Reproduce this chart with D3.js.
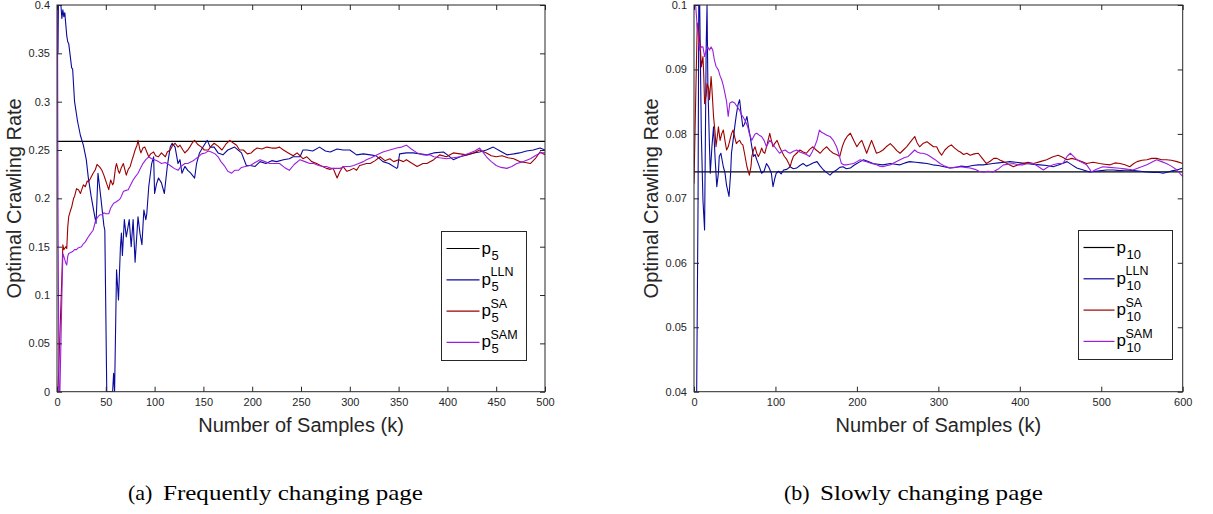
<!DOCTYPE html>
<html>
<head>
<meta charset="utf-8">
<script src="https://cdn.jsdelivr.net/npm/d3@7"></script>
<style>
  body { margin: 0; background: #fff; }
  svg { display: block; }
  .sans { font-family: "Liberation Sans", Arial, Helvetica, sans-serif; }
  .serif { font-family: "Liberation Serif", "Times New Roman", Times, serif; }
</style>
</head>
<body>
<script>
// ---- data ----
var leftXTicks = [0, 50, 100, 150, 200, 250, 300, 350, 400, 450, 500];
var leftYTicks = [0, 0.05, 0.1, 0.15, 0.2, 0.25, 0.3, 0.35, 0.4];
var rightXTicks = [0, 100, 200, 300, 400, 500, 600];
var rightYTicks = [0.04, 0.05, 0.06, 0.07, 0.08, 0.09, 0.1];

var leftTarget = 0.259;
var rightTarget = 0.0741;

var leftLln = [[1,0.35],[2,0.46],[4,0.40],[5,0.386],[6,0.395],[7,0.388],[8,0.392],[9,0.38],[10,0.368],[11,0.362],[12,0.36],[13,0.352],[15,0.335],[16,0.334],[18,0.30],[21,0.28],[24,0.265],[27,0.255],[30,0.24],[32,0.222],[35,0.202],[38,0.185],[40,0.174],[42,0.226],[45,0.2],[48,0.172],[49,0.167],[51,0],[55,0],[57,0],[58,0.019],[59,0],[61,0.126],[63,0.095],[65,0.15],[66,0.164],[67,0.141],[69,0.178],[71,0.16],[74,0.178],[76,0.15],[78,0.178],[80,0.134],[83,0.181],[85,0.164],[87,0.152],[89,0.188],[91,0.178],[92,0.184],[94,0.212],[97,0.236],[99,0.243],[100,0.205],[102,0.215],[104,0.221],[107,0.216],[110,0.205],[113,0.233],[116,0.253],[118,0.257],[121,0.253],[124,0.236],[126,0.24],[128,0.226],[131,0.233],[134,0.229],[137,0.226],[141,0.221],[143,0.236],[146,0.247],[149,0.252],[152,0.257],[154,0.26],[157,0.253],[161,0.253],[165,0.247],[170,0.245],[175,0.25],[182,0.253],[189,0.247],[194,0.234],[198,0.234],[203,0.233],[208,0.238],[214,0.236],[220,0.239],[225,0.238],[232,0.24],[238,0.241],[242,0.243],[249,0.243],[252,0.25],[256,0.25],[262,0.249],[269,0.253],[275,0.249],[280,0.248],[287,0.251],[293,0.25],[300,0.25],[307,0.245],[314,0.246],[321,0.245],[327,0.244],[334,0.238],[340,0.236],[348,0.231],[349,0.232],[351,0.246],[358,0.247],[365,0.247],[372,0.246],[379,0.245],[386,0.247],[396,0.248],[400,0.245],[406,0.24],[413,0.243],[420,0.245],[427,0.247],[433,0.248],[440,0.25],[447,0.253],[454,0.249],[461,0.245],[468,0.246],[474,0.247],[481,0.249],[488,0.25],[495,0.252],[500,0.25]];

var leftSa = [[0,0],[1,0],[3,0.06],[5,0.12],[6,0.152],[7,0.147],[9,0.15],[10,0.148],[11,0.17],[12,0.181],[14,0.188],[15,0.191],[17,0.2],[18,0.202],[20,0.21],[22,0.209],[24,0.205],[25,0.208],[27,0.214],[29,0.212],[31,0.218],[32,0.217],[34,0.22],[35,0.222],[37,0.226],[39,0.229],[41,0.235],[42,0.234],[44,0.232],[46,0.229],[48,0.224],[49,0.221],[51,0.215],[53,0.209],[55,0.219],[57,0.214],[58,0.216],[60,0.232],[61,0.236],[63,0.228],[64,0.226],[66,0.232],[68,0.236],[70,0.228],[71,0.224],[73,0.23],[75,0.233],[77,0.24],[78,0.243],[80,0.25],[82,0.255],[83,0.26],[85,0.25],[86,0.247],[88,0.252],[90,0.253],[92,0.248],[94,0.243],[96,0.246],[99,0.248],[101,0.244],[104,0.243],[107,0.247],[111,0.243],[113,0.248],[116,0.25],[118,0.254],[121,0.257],[124,0.253],[126,0.255],[129,0.25],[131,0.247],[134,0.25],[136,0.253],[139,0.258],[141,0.26],[144,0.256],[148,0.253],[151,0.25],[155,0.25],[158,0.254],[161,0.257],[165,0.254],[169,0.25],[173,0.256],[177,0.26],[181,0.257],[184,0.255],[187,0.25],[191,0.25],[195,0.246],[199,0.247],[202,0.25],[205,0.252],[210,0.251],[215,0.253],[220,0.252],[225,0.252],[228,0.253],[232,0.25],[237,0.247],[242,0.244],[246,0.247],[252,0.241],[256,0.243],[261,0.238],[266,0.236],[270,0.234],[276,0.231],[280,0.23],[283,0.231],[285,0.226],[287,0.221],[290,0.228],[293,0.233],[297,0.228],[300,0.229],[304,0.231],[307,0.229],[310,0.234],[314,0.235],[317,0.236],[321,0.236],[326,0.239],[331,0.243],[336,0.239],[341,0.241],[345,0.238],[350,0.24],[355,0.238],[358,0.24],[364,0.236],[369,0.233],[375,0.236],[379,0.236],[386,0.24],[392,0.245],[399,0.243],[406,0.247],[413,0.246],[420,0.245],[427,0.247],[433,0.25],[440,0.247],[445,0.244],[450,0.243],[456,0.244],[462,0.242],[468,0.241],[474,0.238],[480,0.237],[485,0.236],[490,0.241],[495,0.248],[500,0.245]];

var leftSam = [[0,0.6],[1,0.2],[2,0],[3,0],[5,0.1],[6,0.143],[7,0.14],[9,0.133],[10,0.131],[11,0.14],[12,0.143],[14,0.144],[16,0.145],[18,0.147],[20,0.147],[22,0.149],[25,0.15],[27,0.153],[29,0.155],[32,0.16],[34,0.163],[37,0.167],[39,0.175],[40,0.178],[42,0.181],[44,0.183],[46,0.183],[48,0.185],[50,0.184],[53,0.184],[55,0.19],[58,0.195],[60,0.196],[63,0.198],[65,0.2],[68,0.207],[70,0.208],[73,0.209],[75,0.213],[78,0.219],[80,0.222],[83,0.226],[85,0.23],[88,0.236],[91,0.24],[94,0.243],[97,0.241],[100,0.24],[104,0.238],[107,0.236],[111,0.237],[116,0.234],[120,0.231],[124,0.229],[127,0.233],[131,0.236],[134,0.236],[138,0.238],[141,0.24],[145,0.243],[148,0.246],[152,0.247],[155,0.249],[158,0.248],[162,0.246],[165,0.243],[168,0.238],[172,0.233],[175,0.228],[179,0.226],[182,0.229],[186,0.229],[189,0.232],[193,0.233],[198,0.234],[203,0.237],[208,0.24],[213,0.238],[218,0.236],[222,0.236],[228,0.236],[233,0.232],[238,0.229],[243,0.235],[249,0.24],[254,0.238],[259,0.236],[263,0.236],[268,0.234],[273,0.233],[276,0.233],[281,0.231],[287,0.231],[290,0.231],[295,0.233],[300,0.233],[304,0.234],[309,0.236],[314,0.238],[317,0.24],[322,0.242],[328,0.245],[334,0.248],[341,0.25],[348,0.252],[353,0.253],[358,0.255],[363,0.251],[369,0.247],[375,0.245],[382,0.245],[386,0.243],[392,0.242],[399,0.241],[406,0.242],[413,0.243],[418,0.245],[423,0.247],[428,0.249],[433,0.252],[437,0.247],[440,0.243],[445,0.238],[450,0.234],[455,0.232],[461,0.231],[466,0.233],[471,0.236],[478,0.238],[485,0.241],[490,0.244],[495,0.247],[500,0.247]];

var rightLln = [[0,0.03],[3,0.035],[5,0.07],[6,0.105],[7,0.1],[9,0.08],[11,0.0697],[13,0.0651],[15,0.094],[16,0.1],[17,0.0878],[19,0.078],[20,0.0739],[22,0.078],[24,0.0811],[26,0.076],[28,0.0718],[30,0.074],[31,0.0765],[33,0.077],[36,0.0749],[38,0.074],[40,0.072],[43,0.0703],[45,0.074],[46,0.077],[48,0.079],[50,0.0811],[52,0.083],[54,0.0845],[56,0.0853],[58,0.083],[60,0.0811],[62,0.0815],[65,0.0827],[67,0.081],[69,0.0796],[71,0.078],[73,0.0765],[75,0.0768],[77,0.076],[80,0.075],[83,0.0739],[86,0.0742],[89,0.0754],[92,0.0748],[95,0.0739],[97,0.0718],[99,0.073],[101,0.0739],[104,0.0742],[107,0.0738],[110,0.0744],[114,0.0745],[118,0.0749],[122,0.0746],[126,0.0747],[130,0.0751],[134,0.0754],[138,0.075],[142,0.0752],[146,0.0755],[151,0.0757],[155,0.075],[159,0.0744],[163,0.074],[167,0.0736],[171,0.0741],[175,0.0744],[179,0.0748],[183,0.0749],[187,0.0746],[192,0.0747],[196,0.0751],[200,0.0754],[204,0.0757],[208,0.076],[214,0.0757],[220,0.0754],[226,0.0753],[232,0.0752],[241,0.0754],[247,0.0753],[253,0.0752],[259,0.0755],[265,0.0757],[272,0.0756],[279,0.0755],[286,0.0754],[293,0.0752],[300,0.0751],[307,0.0749],[314,0.0747],[321,0.0748],[328,0.075],[335,0.0749],[342,0.0751],[349,0.0752],[355,0.0752],[361,0.0753],[367,0.0754],[374,0.0755],[381,0.0756],[388,0.0757],[395,0.0756],[401,0.0755],[408,0.0754],[415,0.0753],[425,0.0752],[433,0.0751],[441,0.0749],[450,0.0753],[458,0.0757],[464,0.0752],[470,0.0747],[478,0.0744],[486,0.0741],[493,0.0742],[500,0.0743],[507,0.0744],[515,0.0744],[523,0.0743],[531,0.0744],[540,0.0743],[548,0.0742],[556,0.0741],[564,0.074],[571,0.074],[576,0.0739],[582,0.0741],[588,0.0743],[593,0.0744],[600,0.0747]];

var rightSa = [[0,0.0723],[2,0.085],[4,0.0972],[5,0.0965],[6,0.0956],[8,0.093],[9,0.0904],[11,0.092],[12,0.089],[13,0.0847],[15,0.086],[16,0.0878],[18,0.087],[19,0.0853],[21,0.0889],[22,0.087],[24,0.0827],[26,0.08],[27,0.078],[29,0.08],[30,0.0811],[32,0.079],[34,0.08],[36,0.0806],[38,0.079],[40,0.0775],[42,0.078],[44,0.079],[46,0.08],[48,0.0806],[50,0.0795],[52,0.0785],[54,0.0788],[56,0.079],[58,0.0785],[60,0.0783],[62,0.077],[65,0.0749],[68,0.0736],[70,0.075],[71,0.0765],[73,0.0775],[75,0.078],[77,0.077],[79,0.0765],[81,0.077],[83,0.0778],[85,0.0772],[87,0.077],[90,0.0785],[93,0.0801],[95,0.079],[97,0.078],[99,0.0785],[102,0.079],[105,0.078],[108,0.0772],[111,0.0765],[114,0.076],[116,0.0755],[118,0.0749],[120,0.0758],[122,0.0765],[126,0.077],[130,0.0775],[134,0.0772],[138,0.077],[142,0.0776],[146,0.078],[150,0.0775],[155,0.077],[159,0.0776],[163,0.078],[167,0.0774],[171,0.077],[175,0.0768],[179,0.0765],[182,0.078],[185,0.079],[188,0.0796],[192,0.0801],[196,0.079],[200,0.078],[203,0.0786],[206,0.079],[209,0.078],[212,0.077],[215,0.078],[218,0.079],[221,0.078],[224,0.077],[228,0.0772],[232,0.0775],[236,0.078],[241,0.0785],[245,0.078],[249,0.0774],[253,0.077],[257,0.0775],[261,0.078],[266,0.0788],[271,0.0796],[274,0.0786],[277,0.078],[281,0.0785],[286,0.0788],[290,0.0784],[294,0.078],[298,0.078],[301,0.0772],[304,0.0767],[308,0.0775],[312,0.078],[316,0.0783],[320,0.0778],[324,0.0774],[327,0.0772],[331,0.0768],[335,0.077],[339,0.0767],[344,0.0769],[349,0.077],[354,0.0762],[359,0.0754],[364,0.0758],[368,0.0762],[372,0.0762],[376,0.0759],[380,0.0757],[386,0.0753],[392,0.0749],[398,0.0752],[404,0.0754],[410,0.0756],[417,0.0754],[425,0.0757],[433,0.076],[440,0.0764],[447,0.0767],[452,0.0764],[458,0.076],[464,0.0762],[470,0.076],[476,0.0757],[482,0.0754],[490,0.0756],[498,0.0754],[504,0.0753],[511,0.0752],[517,0.0755],[523,0.0754],[529,0.0752],[535,0.0749],[540,0.0754],[544,0.0757],[550,0.0759],[556,0.076],[562,0.0762],[568,0.0762],[574,0.076],[580,0.076],[586,0.0759],[593,0.0757],[600,0.0754]];

var rightSam = [[0,0.11],[2,0.1],[4,0.0965],[5,0.0956],[6,0.094],[7,0.093],[9,0.0935],[11,0.0935],[13,0.092],[15,0.093],[17,0.0935],[19,0.093],[21,0.0935],[23,0.093],[25,0.0915],[27,0.0905],[30,0.0899],[32,0.089],[34,0.0884],[36,0.0875],[38,0.0863],[40,0.085],[42,0.0827],[44,0.0848],[47,0.085],[50,0.0848],[53,0.0842],[56,0.0837],[58,0.083],[60,0.0827],[63,0.082],[66,0.0811],[68,0.08],[71,0.079],[73,0.0795],[75,0.08],[77,0.0801],[80,0.0798],[83,0.0796],[86,0.079],[89,0.078],[91,0.0785],[93,0.079],[96,0.0786],[99,0.078],[102,0.0775],[105,0.077],[108,0.0773],[112,0.0775],[115,0.0772],[118,0.077],[122,0.0773],[126,0.0775],[130,0.0772],[134,0.077],[138,0.0768],[142,0.0765],[145,0.0772],[148,0.078],[151,0.079],[154,0.0806],[157,0.0802],[159,0.0801],[163,0.0798],[167,0.0796],[171,0.079],[175,0.078],[178,0.0768],[181,0.0754],[184,0.0752],[187,0.0752],[191,0.0753],[196,0.0754],[200,0.0757],[204,0.076],[208,0.0758],[212,0.0757],[218,0.0754],[224,0.0752],[228,0.075],[232,0.0749],[237,0.0751],[241,0.0752],[247,0.0756],[253,0.076],[258,0.0763],[263,0.0765],[267,0.077],[271,0.0775],[274,0.0772],[278,0.077],[281,0.077],[286,0.0768],[290,0.0765],[296,0.076],[302,0.0754],[308,0.075],[314,0.0747],[320,0.0748],[327,0.0749],[333,0.0748],[339,0.0747],[345,0.0745],[350,0.0742],[355,0.0741],[361,0.0742],[367,0.0741],[373,0.0745],[380,0.0752],[386,0.0753],[392,0.0754],[398,0.0752],[404,0.0752],[410,0.0754],[417,0.0754],[423,0.0749],[429,0.0744],[435,0.0749],[441,0.0752],[447,0.0754],[453,0.0754],[458,0.0765],[462,0.077],[466,0.0765],[470,0.076],[476,0.0756],[482,0.0752],[486,0.0745],[488,0.0741],[494,0.0745],[502,0.0749],[510,0.0748],[519,0.0747],[529,0.0746],[539,0.0744],[547,0.0748],[556,0.0752],[562,0.0756],[568,0.076],[574,0.0757],[580,0.0754],[586,0.075],[593,0.0744],[597,0.0738],[600,0.0734]];

var legendSups = ["", "LLN", "SA", "SAM"];
var colors = ["#000000", "#0a0a9c", "#9c0000", "#9a1ee0"];

var width = 1213;
var height = 514;

var svg = d3.select('body').append('svg')
  .attr('width', width)
  .attr('height', height)
  .style('background', '#fff');

function drawPanel(opt) {
  var x = d3.scaleLinear().domain(opt.xDomain).range([opt.left, opt.right]);
  var y = d3.scaleLinear().domain(opt.yDomain).range([opt.bottom, opt.top]);
  var g = svg.append('g');

  g.append('clipPath').attr('id', opt.id)
    .append('rect')
    .attr('x', opt.left).attr('y', opt.top)
    .attr('width', opt.right - opt.left).attr('height', opt.bottom - opt.top);

  var line = d3.line().x(function(d) { return x(d[0]); }).y(function(d) { return y(d[1]); });

  var plot = g.append('g').attr('clip-path', 'url(#' + opt.id + ')');

  plot.append('line')
    .attr('x1', x(opt.xDomain[0])).attr('x2', x(opt.xDomain[1]))
    .attr('y1', y(opt.target)).attr('y2', y(opt.target))
    .attr('stroke', colors[0]).attr('stroke-width', 1.2);

  opt.series.forEach(function(s, i) {
    plot.append('path')
      .datum(s)
      .attr('d', line)
      .attr('fill', 'none')
      .attr('stroke', colors[i + 1])
      .attr('stroke-width', 1.1)
      .attr('stroke-linejoin', 'round');
  });

  var fmt = function(d) { return String(+d.toFixed(3)); };

  var xb = g.append('g').attr('transform', 'translate(0,' + opt.bottom + ')')
    .call(d3.axisBottom(x).tickValues(opt.xTicks).tickSize(-5).tickPadding(7).tickFormat(fmt));
  var xt = g.append('g').attr('transform', 'translate(0,' + opt.top + ')')
    .call(d3.axisTop(x).tickValues(opt.xTicks).tickSize(-5).tickFormat(''));
  var yl = g.append('g').attr('transform', 'translate(' + opt.left + ',0)')
    .call(d3.axisLeft(y).tickValues(opt.yTicks).tickSize(-5).tickPadding(7).tickFormat(fmt));
  var yr = g.append('g').attr('transform', 'translate(' + opt.right + ',0)')
    .call(d3.axisRight(y).tickValues(opt.yTicks).tickSize(-5).tickFormat(''));

  [xb, xt, yl, yr].forEach(function(a) {
    a.attr('font-family', null).attr('font-size', null);
    a.select('.domain').remove();
    a.selectAll('line').attr('stroke', '#262626');
    a.selectAll('text')
      .attr('class', 'sans')
      .attr('fill', '#262626')
      .style('font-size', '11px');
  });

  g.append('rect')
    .attr('x', opt.left).attr('y', opt.top)
    .attr('width', opt.right - opt.left).attr('height', opt.bottom - opt.top)
    .attr('fill', 'none').attr('stroke', '#262626').attr('stroke-width', 1);

  g.append('text')
    .attr('class', 'sans')
    .attr('x', (opt.left + opt.right) / 2).attr('y', 432)
    .attr('text-anchor', 'middle')
    .style('font-size', '20px')
    .attr('fill', '#262626')
    .text('Number of Samples (k)');

  g.append('text')
    .attr('class', 'sans')
    .attr('transform', 'translate(' + (opt.left - 36) + ',' + ((opt.top + opt.bottom) / 2) + ') rotate(-90)')
    .attr('text-anchor', 'middle')
    .style('font-size', '20px')
    .attr('fill', '#262626')
    .text('Optimal Crawling Rate');

  // legend
  var lg = g.append('g');
  lg.append('rect')
    .attr('x', opt.legend[0]).attr('y', opt.legend[1])
    .attr('width', opt.legend[2]).attr('height', opt.legend[3])
    .attr('fill', '#fff').attr('stroke', '#262626').attr('stroke-width', 1);
  legendSups.forEach(function(sup, i) {
    var ly = opt.legend[1] + 17 + i * 31.3;
    var lx = opt.legend[0] + 5;
    lg.append('line')
      .attr('x1', lx).attr('x2', lx + opt.legendLine)
      .attr('y1', ly).attr('y2', ly)
      .attr('stroke', colors[i]).attr('stroke-width', 1.2);
    var tx = lx + opt.legendLine + 2;
    lg.append('text').attr('class', 'sans').attr('x', tx).attr('y', ly + 5)
      .style('font-size', '17px').text('p');
    lg.append('text').attr('class', 'sans').attr('x', tx + 10).attr('y', ly + 11)
      .style('font-size', '13px').text(opt.sub);
    if (sup) {
      lg.append('text').attr('class', 'sans').attr('x', tx + 9).attr('y', ly - 3.5)
        .style('font-size', '12.5px').text(sup);
    }
  });

  // caption: label and title set apart, as in the figure
  g.append('text')
    .attr('class', 'serif')
    .attr('x', opt.caption[0]).attr('y', 500)
    .style('font-size', '22px')
    .attr('fill', '#000')
    .text(opt.captionTag);
  g.append('text')
    .attr('class', 'serif')
    .attr('x', opt.caption[1]).attr('y', 500)
    .attr('textLength', opt.caption[2])
    .attr('lengthAdjust', 'spacingAndGlyphs')
    .style('font-size', '22px')
    .attr('fill', '#000')
    .text(opt.captionText);
}

drawPanel({
  id: 'clipL', left: 57, right: 545, top: 5, bottom: 391.7,
  xDomain: [0, 500], yDomain: [0, 0.4],
  xTicks: leftXTicks, yTicks: leftYTicks, target: leftTarget,
  series: [leftLln, leftSa, leftSam],
  legend: [441.5, 231.5, 85, 129], legendLine: 33, sub: '5',
  caption: [128, 163, 260], captionTag: '(a)', captionText: 'Frequently changing page'
});

drawPanel({
  id: 'clipR', left: 694, right: 1182.7, top: 5, bottom: 391.7,
  xDomain: [0, 600], yDomain: [0.04, 0.1],
  xTicks: rightXTicks, yTicks: rightYTicks, target: rightTarget,
  series: [rightLln, rightSa, rightSam],
  legend: [1078.5, 230.5, 94, 129], legendLine: 31, sub: '10',
  caption: [784, 820, 223], captionTag: '(b)', captionText: 'Slowly changing page'
});
</script>
</body>
</html>
